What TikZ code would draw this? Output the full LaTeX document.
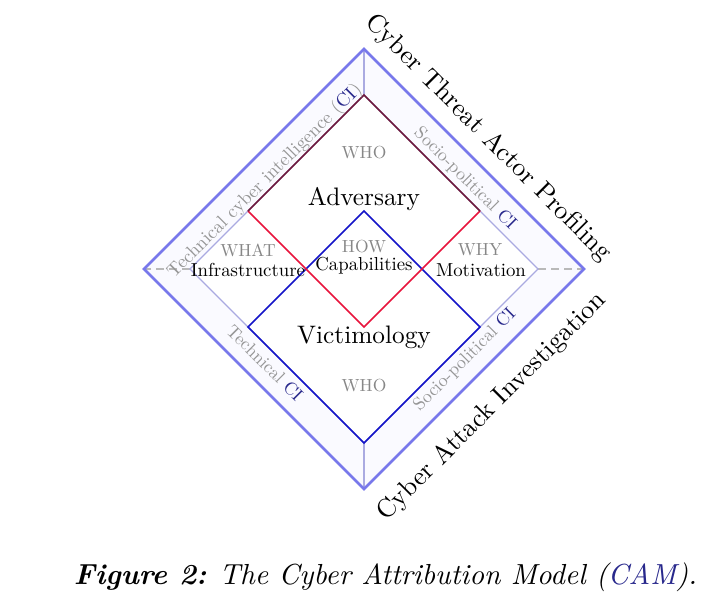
\documentclass[tikz,border=0pt]{standalone}
\usepackage{fontspec}
\definecolor{outerc}{RGB}{120,120,235}
\definecolor{midc}{RGB}{170,170,225}
\definecolor{redc}{RGB}{232,20,60}
\definecolor{maroonc}{RGB}{110,25,60}
\definecolor{bluec}{RGB}{20,20,200}
\definecolor{labgray}{RGB}{135,135,135}
\definecolor{cigray}{RGB}{150,150,150}
\definecolor{linkc}{RGB}{40,40,140}
\begin{document}
\begin{tikzpicture}[x=1pt,y=1pt,
  outerline/.style={draw=outerc,line width=2.8pt,line join=miter},
  midline/.style={draw=midc,line width=1.3pt},
  conn/.style={draw=midc,line width=1.1pt},
  dconn/.style={draw=gray!55,line width=1.1pt,dash pattern=on 8pt off 5pt},
  redline/.style={draw=redc,line width=1.7pt},
  upline/.style={draw=maroonc,line width=1.7pt},
  blueline/.style={draw=bluec,line width=1.7pt},
  basefont/.style={font=\fontsize{10}{12}\selectfont,inner sep=0pt},
  qlabel/.style={basefont,text=labgray,scale=1.75},
  elabel/.style={basefont,text=black,scale=1.88},
  biglabel/.style={basefont,text=black,scale=2.53},
  bandlabel/.style={basefont,text=cigray,scale=1.8},
  sidelabel/.style={basefont,text=black,scale=2.62},
]
\useasboundingbox (0,0) rectangle (717,-603);
% outer diamond
\coordinate (OT) at (364,-49);
\coordinate (OB) at (364,-489);
\coordinate (OL) at (144,-269);
\coordinate (OR) at (584,-269);
% middle diamond
\coordinate (MT) at (364,-95);
\coordinate (MB) at (364,-443);
\coordinate (ML) at (190,-269);
\coordinate (MR) at (538,-269);
% red (adversary) diamond
\coordinate (RT) at (364,-95);
\coordinate (RL) at (248,-211);
\coordinate (RR) at (480,-211);
\coordinate (RB) at (364,-327);
% blue (victimology) diamond
\coordinate (BT) at (364,-211);
\coordinate (BL) at (248,-327);
\coordinate (BR) at (480,-327);
\coordinate (BB) at (364,-443);

\fill[blue!2] (OT)--(OR)--(OB)--(OL)--cycle;
\fill[white] (MT)--(MR)--(MB)--(ML)--cycle;
\draw[conn] (OT)--(MT);
\draw[conn] (OB)--(MB);
\draw[dconn] (ML)--(OL);
\draw[dconn] (MR)--(OR);
\draw[midline] (MT)--(MR)--(MB)--(ML)--cycle;
\draw[blueline] (BT)--(BR)--(BB)--(BL)--cycle;
\draw[redline] (RL)--(RB)--(RR);
\draw[upline] (RL)--(RT)--(RR);
\draw[outerline] (OT)--(OR)--(OB)--(OL)--cycle;

% inner labels
\node[qlabel] (who1) at (364,-153) {WHO};
\node[qlabel] (who2) at (364,-386) {WHO};
\node[qlabel] (what) at (248,-250) {WHAT};
\node[qlabel] (how) at (364,-247) {HOW};
\node[qlabel] (why) at (480,-250) {WHY};
\node[elabel] (infra) at (248,-270) {Infrastructure};
\node[elabel] (capa) at (364,-266) {Capabilities};
\node[elabel] (moti) at (481,-270) {Motivation};
\node[biglabel] (adv) at (364,-199) {Adversary};
\node[biglabel] (vic) at (364,-337) {Victimology};

% band labels
\node[bandlabel,rotate=45,scale=1.04] (b1) at (265,-181) {Technical cyber intelligence (\textcolor{linkc}{CI})};
\node[bandlabel,rotate=-45] (b2) at (465,-179) {Socio-political \textcolor{linkc}{CI}};
\node[bandlabel,rotate=-45] (b3) at (265,-363) {Technical \textcolor{linkc}{CI}};
\node[bandlabel,rotate=45] (b4) at (465,-360) {Socio-political \textcolor{linkc}{CI}};

% side labels
\node[sidelabel,rotate=-45] (s1) at (488,-138) {Cyber Threat Actor Profiling};
\node[sidelabel,rotate=45] (s2) at (492,-407) {Cyber Attack Investigation};

% caption
\node[basefont,scale=2.9] (cap) at (385.5,-577)
  {\textbf{\textit{Figure 2:}} \textit{The Cyber Attribution Model (\textcolor{linkc}{CAM}).}};
\end{tikzpicture}
\end{document}
